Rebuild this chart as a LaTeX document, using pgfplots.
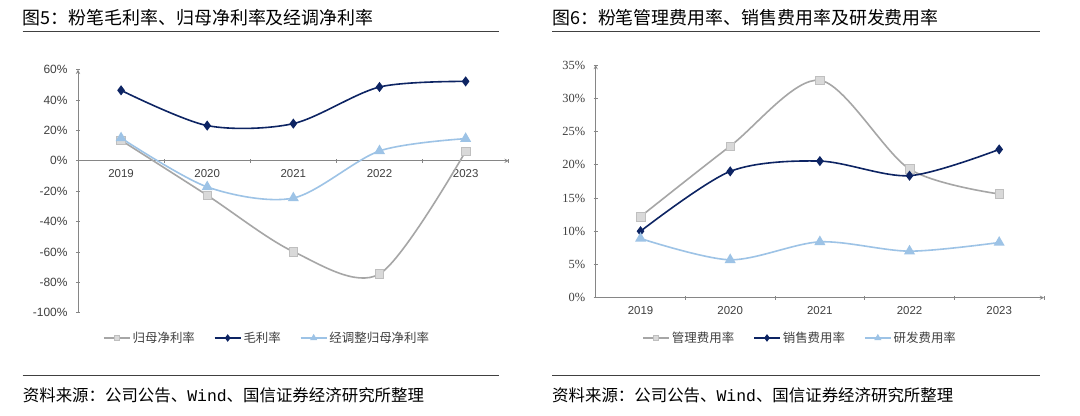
\documentclass[border=0pt]{standalone}
\usepackage{fontspec}
\usepackage{pgfplots}
\pgfplotsset{compat=1.18}
\setmainfont{Liberation Sans}
\newfontfamily\cjk{Noto Sans CJK SC}
\newfontfamily\tnr{Liberation Serif}
\newfontfamily\mono{Liberation Mono}
\definecolor{navy}{HTML}{0D2463}
\definecolor{lgray}{HTML}{A6A6A6}
\definecolor{mgray}{HTML}{D9D9D9}
\definecolor{mgrayd}{HTML}{BFBFBF}
\definecolor{lblue}{HTML}{9DC3E6}
\definecolor{axgray}{HTML}{868686}
\definecolor{txt}{HTML}{404040}

\pgfplotsset{
  excel/.style={
    scale only axis,
    axis line style={axgray, line width=0.9bp, -},
    tick style={axgray, line width=0.9bp},
    tick align=inside,
    major tick length=4bp,
    xmin=-0.5, xmax=4.5,
    xtick={0.5,1.5,2.5,3.5,4.5}, xticklabels={},
    extra x ticks={0,1,2,3,4},
    extra x tick labels={2019,2020,2021,2022,2023},
    extra x tick style={major tick length=0pt},
    ticklabel style={text=txt, font=\fontsize{11.5}{12}\selectfont},
    xticklabel style={yshift=-5bp},
    yticklabel style={xshift=-5bp},
    legend columns=-1,
    legend cell align=left,
    legend style={draw=none, fill=none, font=\cjk\fontsize{12.5}{14}\selectfont, text=txt, inner sep=0pt,
      /tikz/every even column/.append style={column sep=17bp}},
    legend image code/.code={\draw[mark repeat=2, mark phase=2, ##1, mark size=2.5bp] plot coordinates {(0bp,0bp) (13bp,0bp) (26bp,0bp)};},
    every axis plot/.append style={smooth, line width=1.6bp},
  },
  s1/.style={lgray, mark=square*, mark size=4.3bp, mark options={fill=mgray, draw=mgrayd, line width=0.6bp}},
  s2/.style={navy, mark=diamond*, mark size=3.8bp, mark options={fill=navy}},
  s3/.style={lblue, mark=triangle*, mark size=4.8bp, mark options={fill=lblue}},
}

\begin{document}
\begin{tikzpicture}[x=1bp, y=1bp]
\path[use as bounding box, fill=white] (0,0) rectangle (1080,415);

% ---- left panel
\node[anchor=west, inner sep=0pt, font=\cjk\fontsize{18}{20}\selectfont] at (22.7,397.5) {图5：粉笔毛利率、归母净利率及经调净利率};
\draw[line width=1bp, black!75] (22.7,383) -- (499,383);
\draw[line width=1bp, black!75] (22.7,40) -- (499,40);
\node[anchor=west, inner sep=0pt, font=\cjk\fontsize{16.5}{18}\selectfont] at (22.7,20) {资料来源：公司公告、{\mono Wind}、国信证券经济研究所整理};

\begin{axis}[excel,
  at={(78bp,102.3bp)}, anchor=south west,
  width=430.7bp, height=243bp,
  ymin=-100, ymax=60,
  axis x line=middle, axis y line=left,
  ytick={-100,-80,-60,-40,-20,0,20,40,60},
  yticklabels={-100\%,-80\%,-60\%,-40\%,-20\%,0\%,20\%,40\%,60\%},
  yticklabel style={font=\fontsize{12}{13}\selectfont},
  legend style={at={(0.439,-0.104)}, anchor=center},
]
\addplot[s1] coordinates {(0,13.5) (1,-22.7) (2,-59.8) (3,-74.5) (4,6.3)};
\addplot[s2] coordinates {(0,46.4) (1,23.2) (2,24.5) (3,48.6) (4,52.3)};
\addplot[s3] coordinates {(0,15.0) (1,-17.2) (2,-24.5) (3,6.5) (4,14.6)};
\legend{归母净利率,毛利率,经调整归母净利率}
\end{axis}

% ---- right panel
\node[anchor=west, inner sep=0pt, font=\cjk\fontsize{18}{20}\selectfont] at (552,397.5) {图6：粉笔管理费用率、销售费用率及研发费用率};
\draw[line width=1bp, black!75] (552,383) -- (1040,383);
\draw[line width=1bp, black!75] (552,40) -- (1040,40);
\node[anchor=west, inner sep=0pt, font=\cjk\fontsize{16.5}{18}\selectfont] at (552,20) {资料来源：公司公告、{\mono Wind}、国信证券经济研究所整理};

\begin{axis}[excel,
  at={(595.7bp,117.3bp)}, anchor=south west,
  width=448.3bp, height=232.7bp,
  ymin=0, ymax=35,
  axis x line=bottom, axis y line=left,
  ytick={0,5,10,15,20,25,30,35},
  yticklabels={0\%,5\%,10\%,15\%,20\%,25\%,30\%,35\%},
  yticklabel style={font=\tnr\fontsize{12.5}{13}\selectfont},
  legend style={at={(0.456,-0.173)}, anchor=center},
]
\addplot[s1] coordinates {(0,12.2) (1,22.8) (2,32.7) (3,19.35) (4,15.6)};
\addplot[s2] coordinates {(0,10.0) (1,19.0) (2,20.55) (3,18.35) (4,22.3)};
\addplot[s3] coordinates {(0,8.9) (1,5.7) (2,8.4) (3,7.0) (4,8.3)};
\legend{管理费用率,销售费用率,研发费用率}
\end{axis}
\end{tikzpicture}
\end{document}
